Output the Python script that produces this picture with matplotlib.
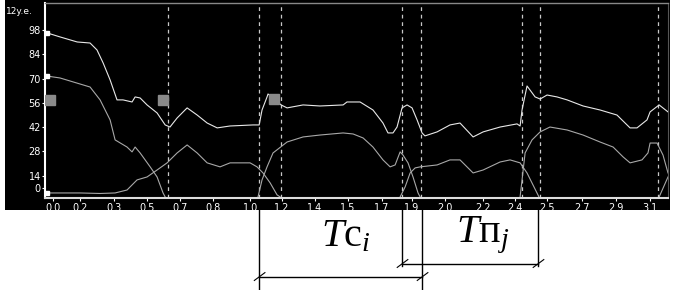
import matplotlib
matplotlib.use("Agg")
import matplotlib.pyplot as plt
from matplotlib.patches import Rectangle

plt.rcParams['mathtext.fontset'] = 'custom'
plt.rcParams['mathtext.rm'] = 'Liberation Serif'
plt.rcParams['mathtext.it'] = 'Liberation Serif:italic'

# ---------------- data ----------------
upper_t = [-0.031, 0.036, 0.125, 0.192, 0.228, 0.260, 0.296, 0.332, 0.363, 0.410, 0.426, 0.452,
           0.488, 0.540, 0.582, 0.607, 0.644, 0.696, 0.748, 0.800, 0.852, 0.919, 1.038, 1.070,
           1.085, 1.111, 1.116, 1.142, 1.184, 1.215, 1.298, 1.386, 1.506, 1.526, 1.594, 1.661,
           1.713, 1.739, 1.765, 1.786, 1.812, 1.838, 1.864, 1.890, 1.916, 1.931, 1.994, 2.061,
           2.113, 2.181, 2.233, 2.321, 2.409, 2.425, 2.435, 2.461, 2.503, 2.529, 2.565, 2.617,
           2.669, 2.752, 2.840, 2.928, 2.996, 3.032, 3.084, 3.100, 3.147, 3.193]
upper_v = [96.3, 94.0, 91.1, 90.5, 86.5, 79.0, 69.3, 57.8, 57.8, 56.6, 59.5, 58.9,
           54.9, 50.3, 43.4, 42.2, 47.4, 53.2, 49.1, 44.5, 41.7, 42.8, 43.4, 43.4,
           52.0, 59.5, 61.2, 58.9, 54.9, 53.2, 54.9, 54.3, 54.9, 56.6, 56.6, 52.0,
           44.5, 38.8, 38.8, 42.2, 53.2, 54.9, 53.2, 46.3, 38.8, 37.1, 39.4, 43.4,
           44.5, 36.5, 39.4, 42.2, 44.0, 42.8, 52.0, 65.8, 59.5, 58.3, 60.6, 59.5,
           57.8, 54.3, 52.0, 49.1, 41.7, 41.7, 46.3, 50.9, 54.9, 50.9]

seg1_t = [-0.031, 0.036, 0.156, 0.192, 0.244, 0.296, 0.322, 0.384, 0.410, 0.426, 0.452, 0.504, 0.540, 0.571, 0.582]
seg1_v = [71.5, 70.4, 66.4, 65.2, 57.8, 46.3, 34.8, 30.7, 27.9, 30.7, 27.3, 19.3, 13.5, 4.3, 2.0]

seg2_t = [-0.031, 0.140, 0.244, 0.322, 0.384, 0.436, 0.488, 0.540, 0.592, 0.644, 0.696, 0.748,
          0.800, 0.867, 0.919, 1.023, 1.059, 1.090, 1.127, 1.163, 1.179]
seg2_v = [4.3, 4.3, 4.0, 4.3, 6.0, 11.8, 13.5, 17.5, 21.6, 27.3, 31.9, 27.3,
          21.6, 19.3, 21.6, 21.6, 19.3, 15.8, 10.1, 3.2, 2.0]

seg3_t = [1.064, 1.085, 1.111, 1.142, 1.215, 1.298, 1.386, 1.506, 1.558, 1.610, 1.661, 1.713,
          1.750, 1.776, 1.802, 1.817, 1.843, 1.869, 1.895, 1.906]
seg3_v = [2.0, 11.8, 19.3, 27.3, 33.6, 36.5, 37.6, 38.8, 38.2, 35.9, 30.7, 23.3,
          19.3, 20.4, 27.9, 26.1, 21.6, 13.5, 4.3, 2.0]

seg4_t = [1.802, 1.828, 1.854, 1.880, 1.906, 1.994, 2.061, 2.113, 2.181, 2.233, 2.321, 2.373,
          2.425, 2.461, 2.492, 2.523]
seg4_v = [2.0, 7.8, 15.8, 18.7, 19.3, 20.4, 23.3, 23.3, 15.8, 17.5, 22.1, 23.3,
          21.6, 15.8, 8.9, 2.0]

seg5_t = [2.425, 2.451, 2.487, 2.529, 2.580, 2.669, 2.752, 2.840, 2.908, 2.960, 2.996, 3.058,
          3.089, 3.100, 3.136, 3.167, 3.193]
seg5_v = [2.0, 27.3, 34.8, 39.4, 42.2, 40.5, 37.6, 33.6, 30.7, 25.0, 21.6, 23.3,
          27.3, 33.0, 33.0, 26.1, 15.8]

seg6_t = [3.147, 3.193]
seg6_v = [2.0, 13.5]

boundaries = [0.597, 1.070, 1.184, 1.812, 1.911, 2.435, 2.529, 3.142]

marker_t = [-0.016, 0.571, 1.147]
marker_v = [57.8, 57.8, 58.3]

xtick_pos = [0.0, 0.140, 0.317, 0.488, 0.659, 0.830, 1.023, 1.189, 1.360, 1.532, 1.708,
             1.864, 2.035, 2.233, 2.399, 2.565, 2.747, 2.923, 3.100]
xtick_labels = ['0.0', '0.2', '0.3', '0.5', '0.7', '0.8', '1.0', '1.2', '1.4', '1.5', '1.7',
                '1.9', '2.0', '2.2', '2.4', '2.5', '2.7', '2.9', '3.1']
ytick_pos = [7.2, 14.1, 28.2, 42.2, 56.0, 70.0, 84.0, 98.0]
ytick_labels = ['0', '14', '28', '42', '56', '70', '84', '98']
y_title = '12y.e.'

# brackets: (start, end, level)
brackets = [(1.812, 2.518, -36.5), (1.070, 1.916, -44.0)]
bracket_verticals = [(1.070, -51.5), (1.812, -37.5), (1.916, -51.5), (2.518, -37.5)]
labels_ann = [(1.52, -20.0, r'$T\mathrm{c}_i$'), (2.23, -20.0, r'$T\mathrm{п}_j$')]

# ---------------- figure ----------------
W, H = 683, 290
fig = plt.figure(figsize=(W / 100, H / 100), dpi=100, facecolor='white')
fig.add_artist(Rectangle((5 / W, (H - 210) / H), 665 / W, 210 / H, transform=fig.transFigure,
                         facecolor='black', edgecolor='none', zorder=-5))

ax = fig.add_axes([45 / W, (H - 198) / H, (668 - 45) / W, (198 - 3) / H])
ax.set_facecolor('black')
ax.set_xlim(-0.042, 3.193)
ax.set_ylim(1.4, 113.5)

for b in boundaries:
    ax.axvline(b, color='#c8c8c8', lw=0.9, ls=(0, (3, 3)), zorder=1)

seg_color = '#a8a8a8'
for tt, vv in [(seg1_t, seg1_v), (seg2_t, seg2_v), (seg3_t, seg3_v),
               (seg4_t, seg4_v), (seg5_t, seg5_v), (seg6_t, seg6_v)]:
    ax.plot(tt, vv, color=seg_color, lw=0.8, zorder=2)
ax.plot(upper_t, upper_v, color='#e8e8e8', lw=0.8, zorder=3)

ax.plot(marker_t, marker_v, ls='none', marker='s', ms=7, color='#8a8a8a', zorder=4)
ax.plot([upper_t[0], seg1_t[0], seg2_t[0]], [upper_v[0], seg1_v[0], seg2_v[0]], ls='none',
        marker='s', ms=3.5, mfc='white', mec='white', zorder=5)

ax.set_xticks(xtick_pos)
ax.set_xticklabels(xtick_labels)
ax.set_yticks(ytick_pos)
ax.set_yticklabels(ytick_labels)
ax.tick_params(colors='white', labelsize=7, length=2, width=0.8, pad=1.5)
ax.tick_params(axis='y', pad=1)

ax.spines['left'].set_color('white')
ax.spines['left'].set_linewidth(1.5)
ax.spines['bottom'].set_color('#dddddd')
ax.spines['bottom'].set_linewidth(1.5)
ax.spines['top'].set_color('#888888')
ax.spines['top'].set_linewidth(1.0)
ax.spines['right'].set_color('#555555')
ax.spines['right'].set_linewidth(0.8)

fig.text(6 / W, 1 - 12 / H, y_title, color='white', fontsize=6.5, va='center', ha='left')

# annotation below the chart
for x0, x1, lev in brackets:
    ax.plot([x0, x1], [lev, lev], color='black', lw=1.0, clip_on=False)
    for xe in (x0, x1):
        ax.plot([xe - 0.025, xe + 0.03], [lev - 2.0, lev + 2.5], color='black', lw=0.8, clip_on=False)
for xv, ybot in bracket_verticals:
    ax.plot([xv, xv], [-5.5, ybot], color='black', lw=1.0, clip_on=False)
for xt, yt, s in labels_ann:
    ax.text(xt, yt, s, fontsize=29, color='black', ha='center', va='center', clip_on=False)

fig.savefig('out.png', dpi=100, facecolor='white')
